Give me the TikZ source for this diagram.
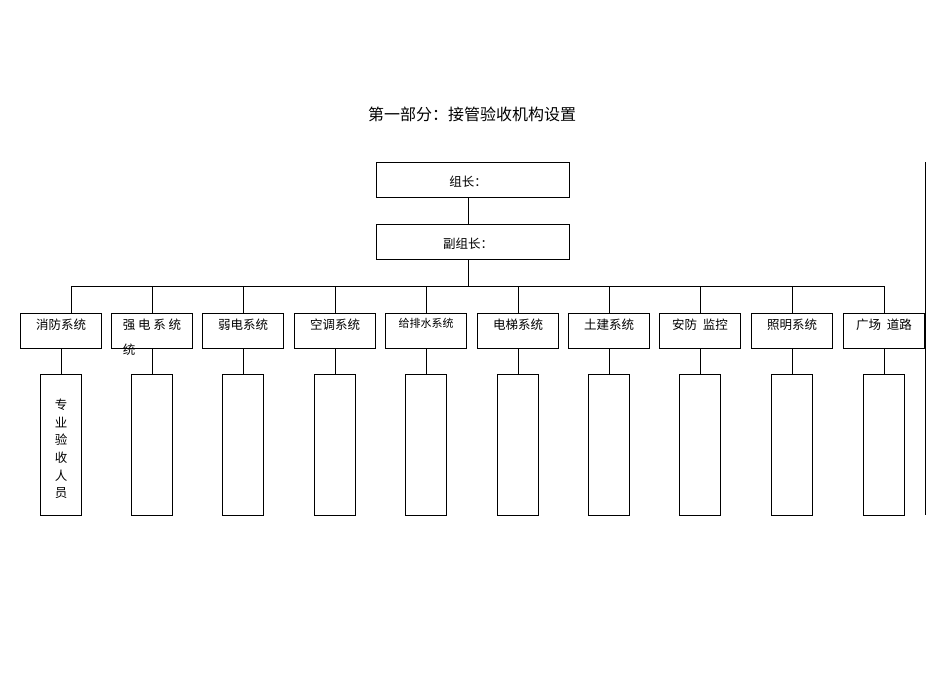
\documentclass[tikz,border=0pt]{standalone}
\usepackage{fontspec}
\newfontfamily\cjk{Noto Sans CJK SC}
\begin{document}
\begin{tikzpicture}[x=1pt,y=-1pt,font=\cjk\fontsize{12.5}{14}\selectfont,
  box/.style={draw,line width=0.9pt,minimum width=81pt,minimum height=35pt,inner sep=0pt},
  tall/.style={draw,line width=0.9pt,minimum width=41pt,minimum height=141pt,inner sep=0pt},
  ln/.style={line width=0.8pt}]
\useasboundingbox (0,0) rectangle (950,672);
\node at (472,114) {\fontsize{16}{18}\selectfont 第一部分：接管验收机构设置};
\node[box,minimum width=193pt] (a) at (472.5,179.5) {};
\node at (468,182) {组长：};
\node[box,minimum width=193pt] (b) at (472.5,241.5) {};
\node at (468,244) {副组长：};
\draw[ln] (a.south -| 468,0) -- (b.north -| 468,0);
\coordinate (bus) at (468,286);
\draw[ln] (b.south -| 468,0) -- (bus);
\draw[ln] (71,286) -- (884,286);
\foreach \i/\cx/\t in {1/61/消防系统,2/152/强 电 系 统,3/243/弱电系统,4/335/空调系统,5/426/{\fontsize{11}{13}\selectfont 给排水系统},6/518/电梯系统,7/609/土建系统,8/700/安防\ \ 监控,9/792/照明系统,10/884/广场\ \ 道路}{
  \node[box] (s\i) at (\cx,330.5) {};
  \node[anchor=north] at (\cx,315) {\t};
  \node[tall] (p\i) at (\cx,444.5) {};
  \draw[ln] (s\i.south) -- (p\i.north);
}
\foreach \i/\cx in {2/152,3/243,4/335,5/426,6/518,7/609,8/700,9/792,10/884}{
  \draw[ln] (\cx,286) -- (s\i.north);
}
\draw[ln] (71,286) -- (71,313);
\node at (129,350) {统};
\node[align=center,font=\cjk\fontsize{12.5}{17.6}\selectfont] at (61,449) {专\\业\\验\\收\\人\\员};
\coordinate (rt) at (925,162);
\coordinate (rb) at (925,515);
\draw[ln] (rt) -- (rb);
\end{tikzpicture}
\end{document}
